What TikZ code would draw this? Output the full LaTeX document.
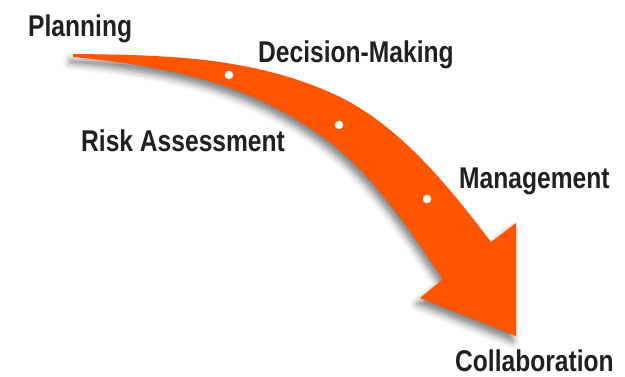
\documentclass[tikz,border=0pt]{standalone}
\usepackage{fontspec}
\setmainfont{Liberation Sans}[FakeStretch=0.82]
\usetikzlibrary{shadows.blur}
\definecolor{arroworange}{RGB}{255,84,0}
\definecolor{labelgray}{RGB}{35,31,32}

\begin{document}
\begin{tikzpicture}[x=1pt, y=-1pt,
    stage/.style={anchor=base west, inner sep=0pt, text=labelgray, font=\fontsize{30}{34}\selectfont\bfseries},
    waypoint/.style={circle, fill=white, inner sep=0pt, minimum size=8.5pt}]
    \useasboundingbox (0,0) rectangle (625,377);
    \fill [arroworange, blur shadow={shadow xshift=-3pt, shadow yshift=-6pt, shadow blur radius=7pt, shadow opacity=50}]
      (73,54) .. controls (162,55) and (255,56) .. (340,97)
      .. controls (402,128) and (449,187) .. (491,242)
      -- (516,223) -- (516,336) -- (420,298) -- (443,279)
      .. controls (410,231) and (375,176) .. (327,140)
      .. controls (247,80) and (162,66) .. (73,57) -- cycle;
    \node [waypoint] (p1) at (229,75) {};
    \node [waypoint] (p2) at (339,125) {};
    \node [waypoint] (p3) at (427,199) {};
    \node [stage] (planning) at (28,37) {Planning};
    \node [stage] (decision) at (258,63) {Decision-Making};
    \node [stage] (risk) at (81,152) {Risk Assessment};
    \node [stage] (management) at (459,189) {Management};
    \node [stage] (collab) at (455,372) {Collaboration};
  \end{tikzpicture}
\end{document}
